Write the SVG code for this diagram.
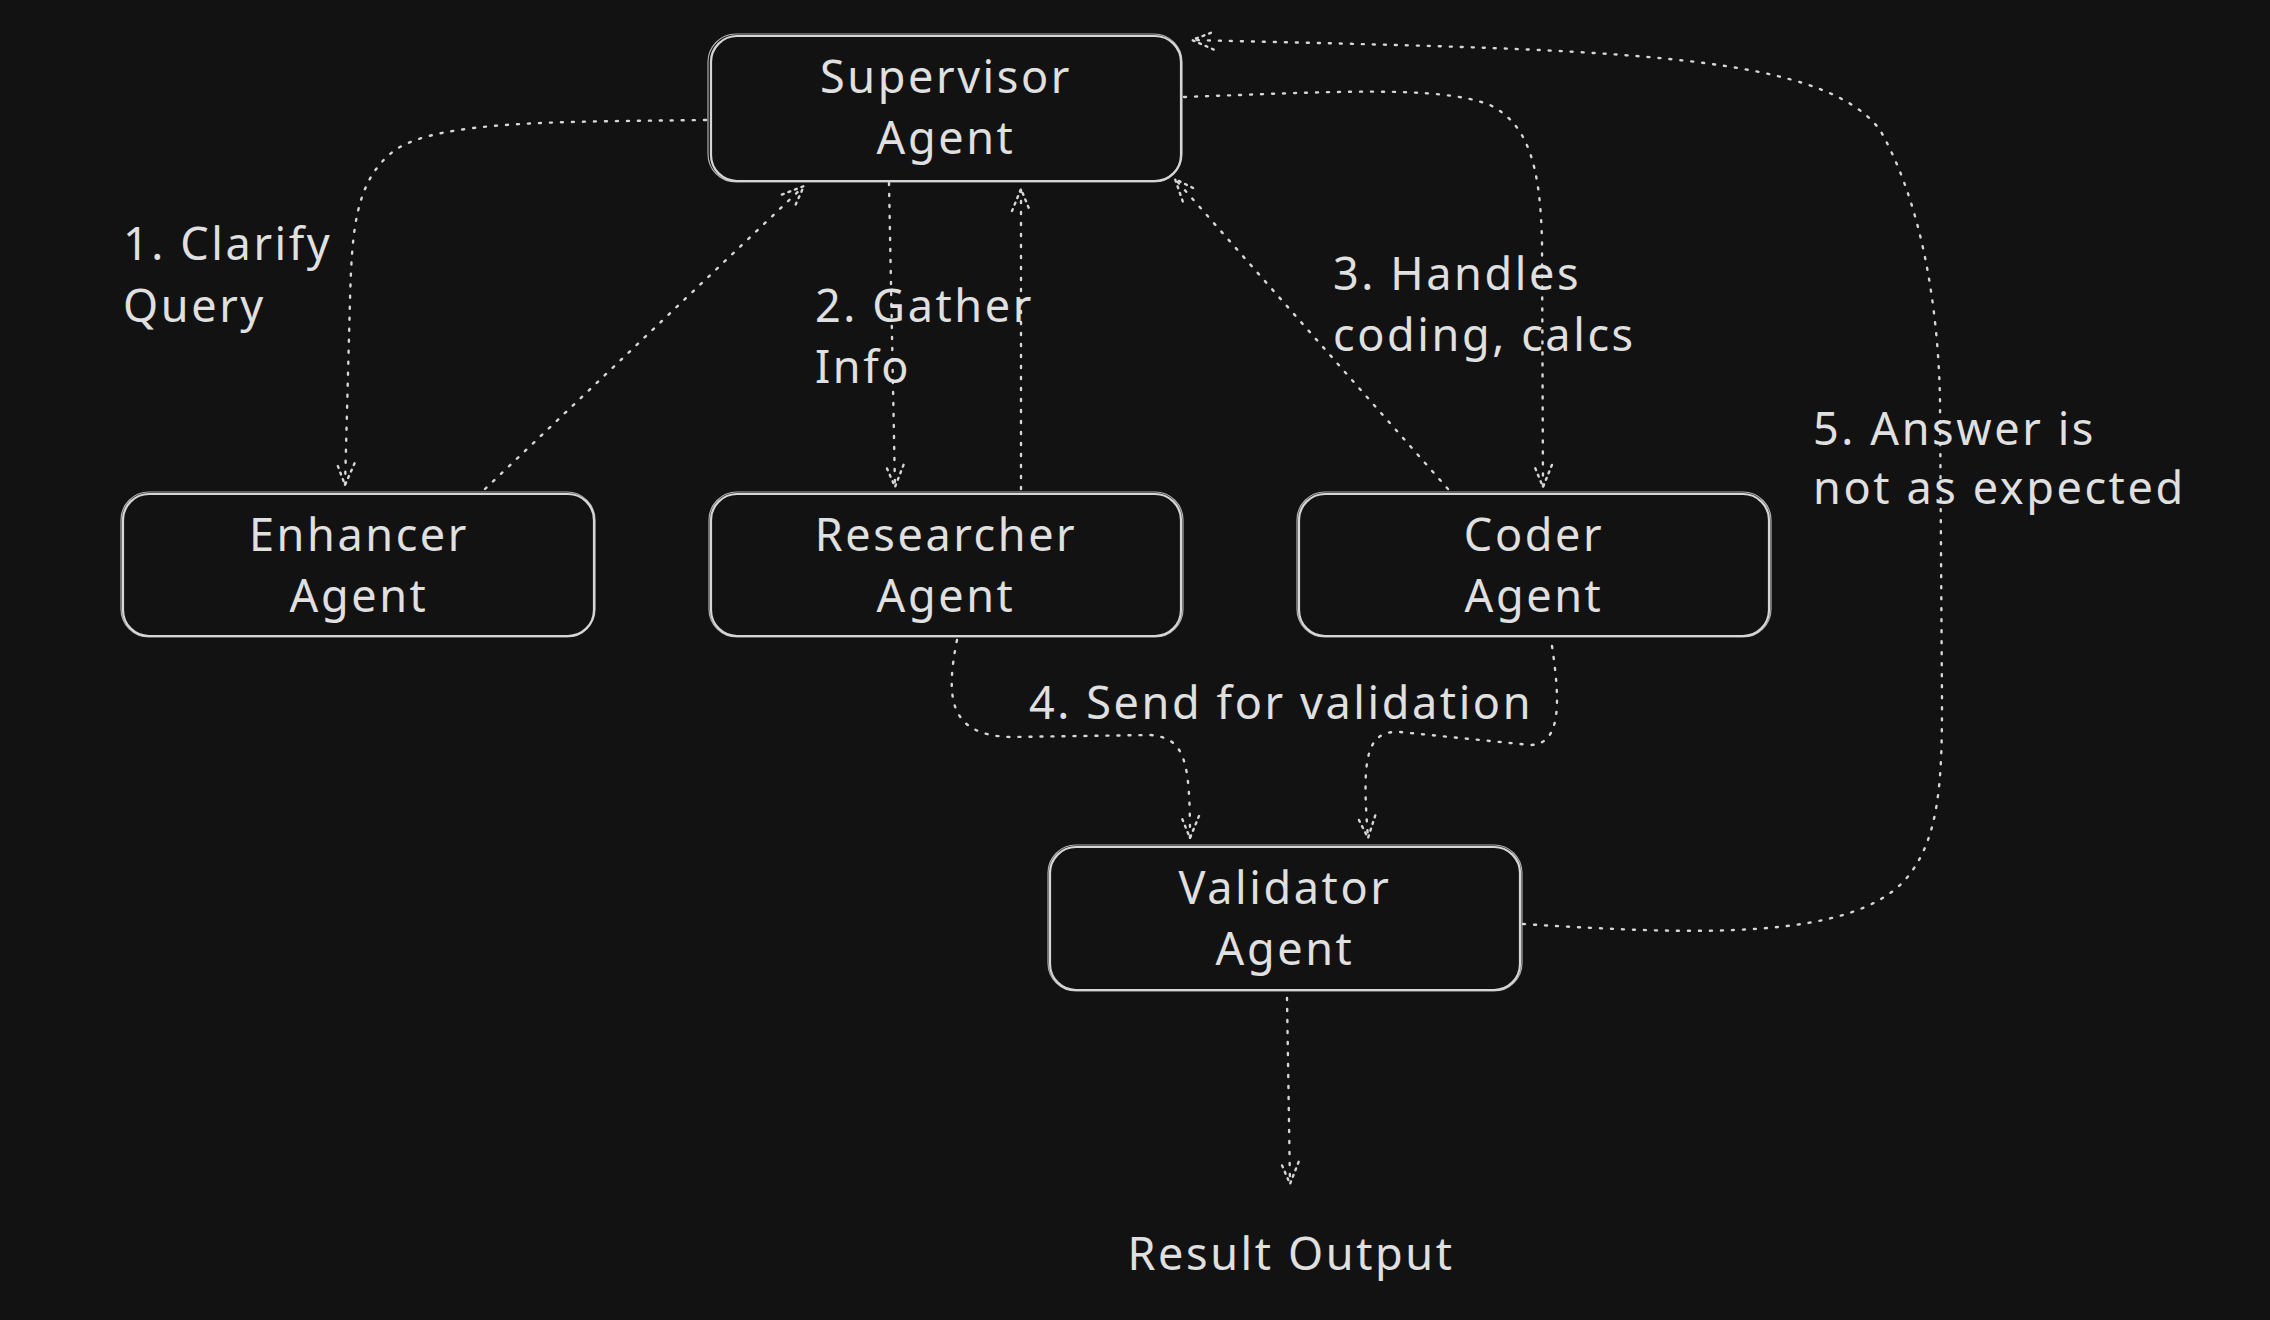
<svg xmlns="http://www.w3.org/2000/svg" width="2270" height="1320" viewBox="0 0 2270 1320">
<style>
.bg{fill:#121212}
.box{fill:#121212;stroke:#d6d6d6;stroke-width:2.2}
.box2{fill:none;stroke:#d6d6d6;stroke-width:1.2;opacity:0.8}
.t{font-family:"Noto Sans","Liberation Sans",sans-serif;font-size:45px;fill:#e0e0e0;dominant-baseline:central;letter-spacing:2.6px}
.c{text-anchor:middle}
.edge{fill:none;stroke:#d6d6d6;stroke-width:2.4;stroke-dasharray:2 9;stroke-linecap:round}
</style>
<defs>
<marker id="arr" markerUnits="userSpaceOnUse" markerWidth="40" markerHeight="40" viewBox="-30 -20 40 40" refX="0" refY="0" orient="auto">
<path d="M-22,-9 L0,0 L-22,9" fill="none" stroke="#d6d6d6" stroke-width="2.4" stroke-dasharray="2 5" stroke-linecap="round"/>
</marker>
</defs>
<rect class="bg" x="0" y="0" width="2270" height="1320"/>

<g id="connectors">
<path class="edge" d="M706,120 C 560,122 440,120 395,150 C 355,180 352,230 350,300 L 345,485" marker-end="url(#arr)"/>
<path class="edge" d="M485,489 L 804,186" marker-end="url(#arr)"/>
<path class="edge" d="M889,183 L 895,487" marker-end="url(#arr)"/>
<path class="edge" d="M1021,489 L 1021,189" marker-end="url(#arr)"/>
<path class="edge" d="M1448,489 L 1175,179" marker-end="url(#arr)"/>
<path class="edge" d="M1184,97 C 1330,92 1440,85 1490,105 C 1530,125 1540,170 1542,240 L 1543,487" marker-end="url(#arr)"/>
<path class="edge" d="M957,640 C 945,700 950,735 1010,737 L 1150,735 C 1185,738 1190,760 1190,838" marker-end="url(#arr)"/>
<path class="edge" d="M1552,646 C 1560,700 1562,745 1530,745 L 1400,732 C 1365,730 1362,760 1368,838" marker-end="url(#arr)"/>
<path class="edge" d="M1523,924 C 1700,935 1850,940 1905,880 C 1940,840 1942,780 1942,700 L 1940,400 C 1938,300 1920,200 1880,130 C 1820,50 1600,50 1192,40" marker-end="url(#arr)"/>
<path class="edge" d="M1287,998 L 1290,1184" marker-end="url(#arr)"/>
</g>

<g id="supervisor">
<rect class="box" x="711" y="36" width="470" height="145" rx="26"/>
<rect class="box2" x="708" y="34" width="474" height="148" rx="28"/>
<text class="t c" x="946" y="75">Supervisor</text>
<text class="t c" x="946" y="136">Agent</text>
</g>
<g id="enhancer">
<rect class="box" x="123" y="494" width="471" height="142" rx="26"/>
<rect class="box2" x="121" y="492" width="474" height="145" rx="28"/>
<text class="t c" x="359" y="533">Enhancer</text>
<text class="t c" x="359" y="594">Agent</text>
</g>
<g id="researcher">
<rect class="box" x="711" y="494" width="470" height="142" rx="26"/>
<rect class="box2" x="709" y="492" width="474" height="145" rx="28"/>
<text class="t c" x="946" y="533">Researcher</text>
<text class="t c" x="946" y="594">Agent</text>
</g>
<g id="coder">
<rect class="box" x="1299" y="494" width="470" height="142" rx="26"/>
<rect class="box2" x="1297" y="492" width="474" height="145" rx="28"/>
<text class="t c" x="1534" y="533">Coder</text>
<text class="t c" x="1534" y="594">Agent</text>
</g>
<g id="validator">
<rect class="box" x="1050" y="847" width="470" height="143" rx="26"/>
<rect class="box2" x="1048" y="845" width="474" height="146" rx="28"/>
<text class="t c" x="1285" y="886">Validator</text>
<text class="t c" x="1285" y="947">Agent</text>
</g>
<g id="result">
<text class="t c" x="1291" y="1252">Result Output</text>
</g>

<g id="labels">
<text class="t" x="123" y="242">1. Clarify</text>
<text class="t" x="123" y="304">Query</text>
<text class="t" x="815" y="304">2. Gather</text>
<text class="t" x="815" y="365">Info</text>
<text class="t" x="1333" y="272">3. Handles</text>
<text class="t" x="1333" y="333">coding, calcs</text>
<text class="t" x="1029" y="701">4. Send for validation</text>
<text class="t" x="1813" y="427">5. Answer is</text>
<text class="t" x="1813" y="486">not as expected</text>
</g>
</svg>
